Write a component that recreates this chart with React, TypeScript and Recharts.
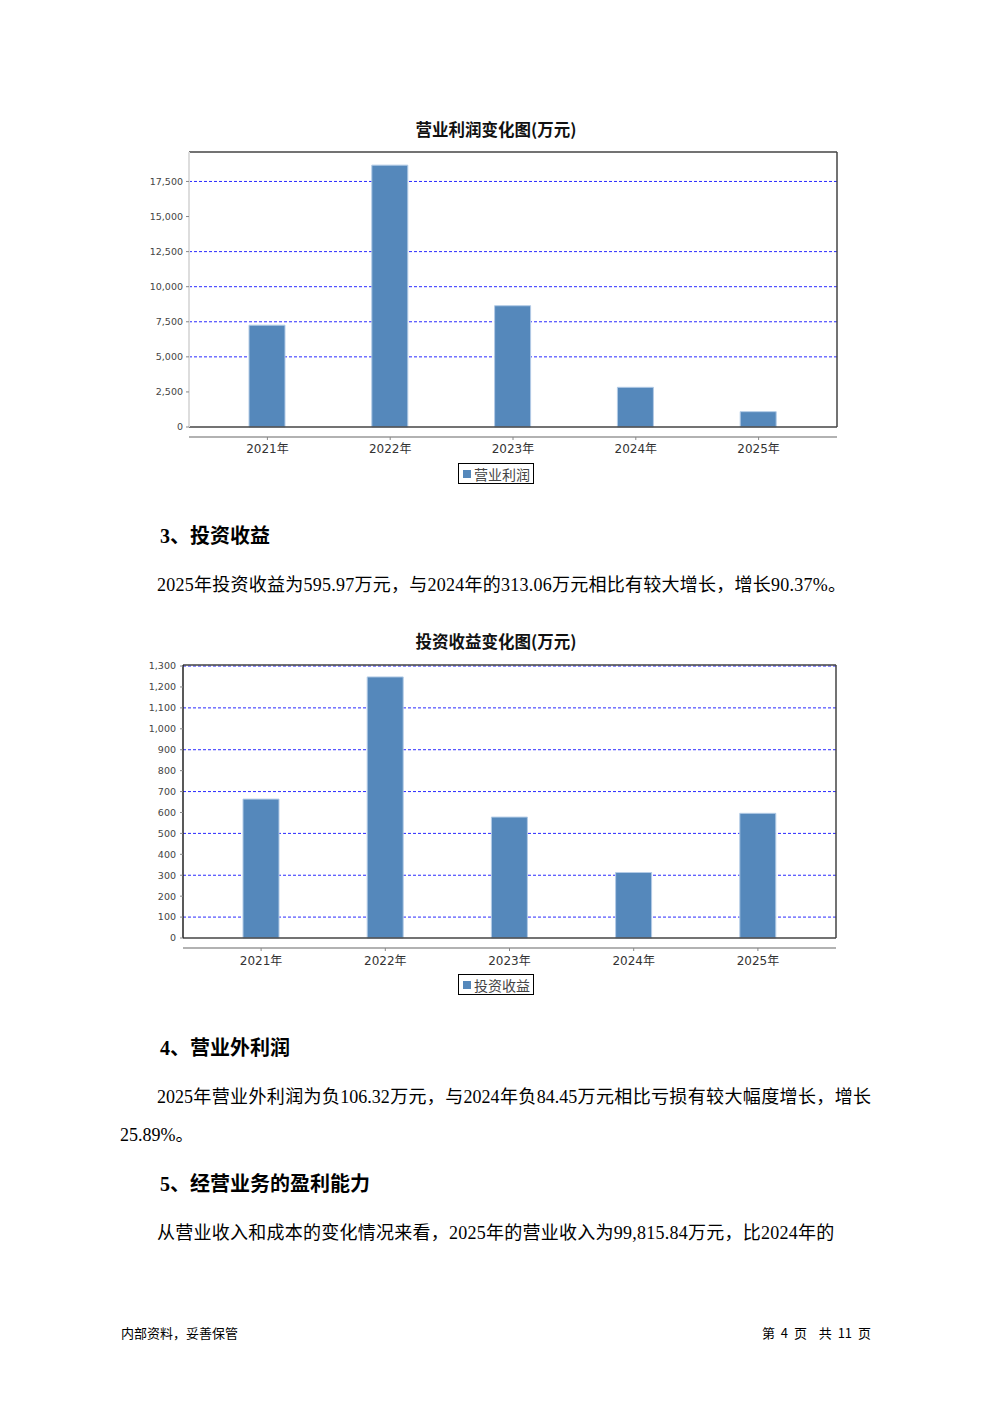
import React from 'react';
import { BarChart, Bar, XAxis, YAxis, CartesianGrid, Legend } from 'recharts';

const years = ['2021年', '2022年', '2023年', '2024年', '2025年'];
const operatingProfit = [7257, 18664, 8643, 2829, 1093];
const investmentIncome = [664, 1248, 578, 313.06, 595.97];

const profitTicks = [0, 2500, 5000, 7500, 10000, 12500, 15000, 17500];
const profitGrid = [5000, 7500, 10000, 12500, 17500];
const profitMax = 19600;

const incomeTicks = [0, 100, 200, 300, 400, 500, 600, 700, 800, 900, 1000, 1100, 1200, 1300];
const incomeGrid = [100, 300, 500, 700, 900, 1100, 1300];
const incomeMax = 1305;

const SANS = '"DejaVu Sans", "Noto Sans CJK SC", sans-serif';
const CJK = '"Noto Sans CJK SC", sans-serif';
const BODY = '"Liberation Serif", "Noto Sans CJK SC", serif';

const BAR = '#5588bb';

const fmt = (v: number) => v.toLocaleString('en-US');

const renderLegend = (props: any) => {
  const payload = props.payload || [];
  return (
    <div style={{ height: 26, display: 'flex', justifyContent: 'center', alignItems: 'flex-start' }}>
      {payload.map((e: any) => (
        <div
          key={e.value}
          style={{
            marginTop: 2,
            border: '1px solid #000',
            height: 19,
            padding: '0 3px 0 4px',
            display: 'flex',
            alignItems: 'center',
            fontSize: 14,
            color: '#444',
            fontFamily: CJK,
            background: '#fff',
          }}
        >
          <span style={{ width: 8, height: 8, background: e.color, marginRight: 3, display: 'inline-block' }} />
          {e.value}
        </div>
      ))}
    </div>
  );
};

type BlockProps = {
  name: string;
  values: number[];
  ticks: number[];
  grid: number[];
  yMax: number;
  top: number;
  plotLeft: number;
  plotRight: number;
  plotTop: number;
  plotBottom: number;
  leftLine: any;
  pad: number;
  tickMargin: number;
  catMargin: number;
};

function ChartBlock(p: BlockProps) {
  const data = years.map((year, i) => ({ year, value: p.values[i] }));
  const yAxisW = 50;
  const marginTop = p.plotTop - p.top - 1;
  const height = p.plotBottom - p.top + 10 + 24 + 26;
  return (
    <div style={{ position: 'absolute', left: 0, top: p.top }}>
      <BarChart
        width={992}
        height={height}
        data={data}
        margin={{ top: marginTop, right: 992 - p.plotRight - 1, bottom: 0, left: p.plotLeft - yAxisW }}
      >
        <CartesianGrid
          vertical={false}
          horizontalValues={p.grid}
          stroke="#2a2aff"
          strokeDasharray="3 2"
        />
        <XAxis
          xAxisId="t"
          orientation="top"
          dataKey="year"
          height={1}
          tick={false}
          tickLine={false}
          axisLine={{ stroke: '#444', strokeWidth: 1.5 }}
          padding={{ left: p.pad, right: p.pad }}
        />
        <XAxis
          dataKey="year"
          height={10}
          tick={false}
          tickLine={false}
          axisLine={{ stroke: '#444', strokeWidth: 1.5 }}
          padding={{ left: p.pad, right: p.pad }}
        />
        <XAxis
          xAxisId="c"
          dataKey="year"
          height={24}
          tickSize={3}
          tickMargin={p.catMargin}
          tickLine={{ stroke: '#888' }}
          axisLine={{ stroke: '#999', strokeWidth: 1.5 }}
          tick={{ fontSize: 12, fill: '#333', fontFamily: SANS }}
          padding={{ left: p.pad, right: p.pad }}
        />
        <YAxis
          width={yAxisW}
          type="number"
          domain={[0, p.yMax]}
          ticks={p.ticks}
          interval={0}
          tickSize={3}
          tickMargin={p.tickMargin}
          tickFormatter={fmt}
          tickLine={{ stroke: '#888' }}
          axisLine={p.leftLine}
          tick={{ fontSize: 9.5, fill: '#444', fontFamily: SANS }}
        />
        <YAxis
          yAxisId="r"
          orientation="right"
          width={1}
          type="number"
          domain={[0, 1]}
          tick={false}
          tickLine={false}
          axisLine={{ stroke: '#444', strokeWidth: 1.5 }}
        />
        <Legend
          verticalAlign="bottom"
          align="center"
          content={renderLegend}
          wrapperStyle={{ left: 0, width: 992 }}
        />
        <Bar
          dataKey="value"
          name={p.name}
          fill={BAR}
          stroke="#b3cbe6"
          strokeWidth={1}
          barSize={36}
          legendType="square"
          isAnimationActive={false}
        />
      </BarChart>
    </div>
  );
}

const abs = (top: number, extra: React.CSSProperties = {}): React.CSSProperties => ({
  position: 'absolute',
  top,
  whiteSpace: 'nowrap',
  ...extra,
});

export default function App() {
  return (
    <div style={{ position: 'absolute', left: 0, top: 0, width: 992, height: 1403, background: '#fff', overflow: 'hidden' }}>
      <div style={abs(118, { left: 0, width: 992, textAlign: 'center', fontFamily: CJK, fontWeight: 'bold', fontSize: 16.5, lineHeight: '22px', color: '#111' })}>
        营业利润变化图(万元)
      </div>
      <ChartBlock
        name="营业利润"
        values={operatingProfit}
        ticks={profitTicks}
        grid={profitGrid}
        yMax={profitMax}
        top={140}
        plotLeft={189}
        plotRight={837}
        plotTop={152}
        plotBottom={427}
        leftLine={{ stroke: '#dddddd', strokeWidth: 2 }}
        pad={17}
        tickMargin={3}
        catMargin={4}
      />

      <div style={abs(517, { left: 160, fontFamily: BODY, fontWeight: 'bold', fontSize: 20, lineHeight: '38px', color: '#000' })}>
        3、投资收益
      </div>
      <div style={abs(566, { left: 157, fontFamily: BODY, fontSize: 18, lineHeight: '38px', letterSpacing: 0.25, color: '#000' })}>
        2025年投资收益为595.97万元，与2024年的313.06万元相比有较大增长，增长90.37%。
      </div>

      <div style={abs(630, { left: 0, width: 992, textAlign: 'center', fontFamily: CJK, fontWeight: 'bold', fontSize: 16.5, lineHeight: '22px', color: '#111' })}>
        投资收益变化图(万元)
      </div>
      <ChartBlock
        name="投资收益"
        values={investmentIncome}
        ticks={incomeTicks}
        grid={incomeGrid}
        yMax={incomeMax}
        top={652}
        plotLeft={183}
        plotRight={836}
        plotTop={665}
        plotBottom={938}
        leftLine={{ stroke: '#222', strokeWidth: 1.5 }}
        pad={16}
        tickMargin={4}
        catMargin={5}
      />

      <div style={abs(1029, { left: 160, fontFamily: BODY, fontWeight: 'bold', fontSize: 20, lineHeight: '38px', color: '#000' })}>
        4、营业外利润
      </div>
      <div style={abs(1078, { left: 157, width: 714, fontFamily: BODY, fontSize: 18, lineHeight: '38px', color: '#000', textAlign: 'justify', textAlignLast: 'justify' })}>
        2025年营业外利润为负106.32万元，与2024年负84.45万元相比亏损有较大幅度增长，增长
      </div>
      <div style={abs(1116, { left: 120, fontFamily: BODY, fontSize: 18, lineHeight: '38px', color: '#000' })}>
        25.89%。
      </div>

      <div style={abs(1165, { left: 160, fontFamily: BODY, fontWeight: 'bold', fontSize: 20, lineHeight: '38px', color: '#000' })}>
        5、经营业务的盈利能力
      </div>
      <div style={abs(1214, { left: 157, fontFamily: BODY, fontSize: 18, lineHeight: '38px', letterSpacing: 0.25, color: '#000' })}>
        从营业收入和成本的变化情况来看，2025年的营业收入为99,815.84万元，比2024年的
      </div>

      <div style={abs(1324, { left: 121, fontFamily: CJK, fontSize: 13, lineHeight: '18px', color: '#000' })}>
        内部资料，妥善保管
      </div>
      <div style={abs(1324, { right: 121, fontFamily: CJK, fontSize: 13, lineHeight: '18px', color: '#000', wordSpacing: 3, whiteSpace: 'pre' })}>
        第 4 页  共 11 页
      </div>
    </div>
  );
}
